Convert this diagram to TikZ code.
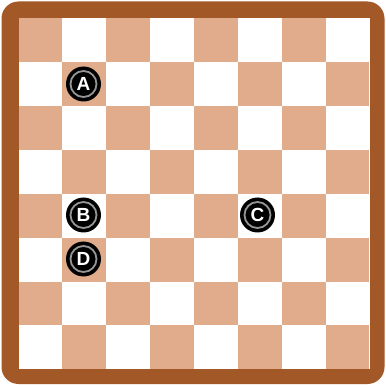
\documentclass[tikz,border=0pt]{standalone}
\usepackage{fontspec}
\setsansfont{Liberation Sans}
\definecolor{boardbrown}{RGB}{163,88,40}
\definecolor{tan}{RGB}{225,172,140}
\definecolor{ringgray}{RGB}{150,150,150}
\tikzset{
  piece/.style={circle, fill=black, minimum size=35pt, inner sep=0pt, text=white,
    font=\sffamily\bfseries\fontsize{19}{19}\selectfont,
    path picture={\draw[ringgray, line width=1.8pt] (path picture bounding box.center) circle (13pt);}},
}
\begin{document}
\begin{tikzpicture}[x=1pt,y=-1pt]
\useasboundingbox (0,0) rectangle (386,385);
\fill[white] (0,0) rectangle (386,385);
\fill[boardbrown, rounded corners=17pt] (1.5,1.5) rectangle (384.5,384);
\fill[white] (18.5,18.5) rectangle (369.5,369.3);
\foreach \r in {0,...,7}{
  \foreach \c in {0,...,7}{
    \pgfmathtruncatemacro{\parity}{mod(\r+\c,2)}
    \ifnum\parity=0
      \fill[tan] ({18.5+43.87*\c},{18.5+43.85*\r}) rectangle ++(43.87,43.85);
    \fi
  }
}
\node[piece] (A) at (83.5,84) {A};
\node[piece] (B) at (83.5,215) {B};
\node[piece] (C) at (257.5,215) {C};
\node[piece] (D) at (83.5,259) {D};
\end{tikzpicture}
\end{document}
